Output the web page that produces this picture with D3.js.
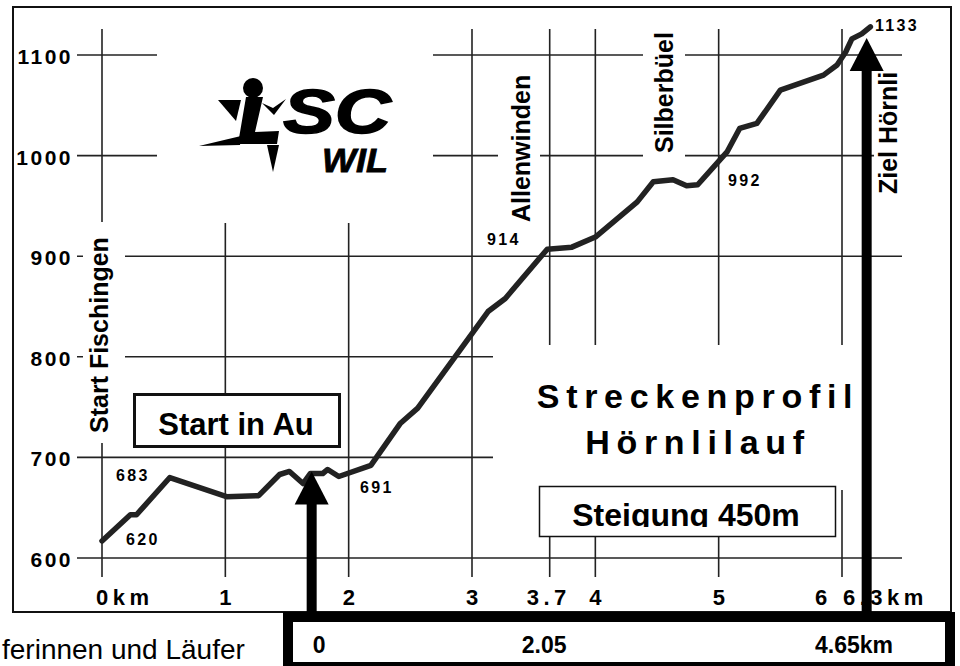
<!DOCTYPE html>
<html><head><meta charset="utf-8">
<script src="https://cdn.jsdelivr.net/npm/d3@7"></script>
<style>
body{margin:0;background:#fff;}
svg{display:block;font-family:"Liberation Sans",Arial,Helvetica,sans-serif;}
</style>
</head><body>
<svg id="c" width="960" height="666"></svg>
<script>
// ---------------- data ----------------
const profileKm   = [0, 0.23, 0.28, 0.55, 1.01, 1.27, 1.44, 1.52, 1.63, 1.69, 1.79, 1.83, 1.92, 2.18, 2.42, 2.56, 3.13, 3.27, 3.61, 3.81, 4.0, 4.34, 4.47, 4.63, 4.74, 4.83, 5.07, 5.17, 5.31, 5.5, 5.85, 5.96, 6.03, 6.08, 6.16, 6.23];
const profileElev = [617, 643, 643, 680, 661, 662, 683, 686, 674, 684, 684, 688, 681, 692, 734, 749, 845, 858, 907, 909, 919, 954, 974, 976, 970, 971, 1004, 1027, 1032, 1065, 1080, 1090, 1103, 1116, 1121, 1128];
const yTickValues = [600, 700, 800, 900, 1000, 1100];
const xGridKm     = [0, 1, 2, 3, 3.63, 4, 5, 6];
const xLabelKm    = [0, 1, 2, 3, 3.63, 4, 5, 6, 6.3];
const xLabelText  = ["0km", "1", "2", "3", "3.7", "4", "5", "6", "6.3km"];
const heightLabels = ["620", "683", "691", "914", "992", "1133"];
const placeNames  = ["Start Fischingen", "Allenwinden", "Silberbüel", "Ziel Hörnli"];
const arrowKm     = [1.7, 6.2];
const arrowTipElev = [686, 1117];
const legText     = ["0", "2.05", "4.65km"];
const titleLines  = ["Streckenprofil", "Hörnlilauf"];
const boxTexts    = ["Start in Au", "Steigung 450m"];
const footText    = "ferinnen und Läufer";

// ---------------- layout ----------------
const svg = d3.select("#c");
const x = d3.scaleLinear().domain([0, 6]).range([102, 842]);
const y = d3.scaleLinear().domain([600, 1100]).range([558, 55]);
const INK = "#222";
const FONT_BOLD = 700;

// outer frame
svg.append("rect").attr("x", 13).attr("y", 7).attr("width", 938).attr("height", 605)
  .attr("fill", "#fff").attr("stroke", "#111").attr("stroke-width", 2);

// grid
const grid = svg.append("g").attr("stroke", INK).attr("stroke-width", 1.6);
grid.selectAll("line.h").data(yTickValues).join("line").attr("class", "h")
  .attr("x1", 77).attr("x2", 902).attr("y1", d => y(d)).attr("y2", d => y(d));
grid.selectAll("line.v").data(xGridKm).join("line").attr("class", "v")
  .attr("x1", d => x(d)).attr("x2", d => x(d)).attr("y1", 29).attr("y2", 577);

// white masks behind labels / logo
const masks = [
  [157, 20, 276, 203],   // logo
  [83, 222, 42, 221],    // Start Fischingen
  [498, 62, 42, 168],    // Allenwinden
  [643, 22, 42, 143],    // Silberbüel
  [874, 62, 32, 140],    // Ziel Hörnli
  [493, 345, 413, 145]   // title
];
svg.append("g").selectAll("rect").data(masks).join("rect")
  .attr("x", d => d[0]).attr("y", d => d[1]).attr("width", d => d[2]).attr("height", d => d[3])
  .attr("fill", "#fff");

// y labels
svg.append("g").selectAll("text").data(yTickValues).join("text")
  .attr("x", 73).attr("y", d => y(d) + 9).attr("text-anchor", "end")
  .attr("font-size", 21).attr("font-weight", FONT_BOLD).attr("letter-spacing", 2.5)
  .text(d => d);

// x labels
const xLabelDx = [-6, -6, -6, -6, -23, -6, -6, -27, -36];
svg.append("g").selectAll("text").data(xLabelKm).join("text")
  .attr("x", (d, i) => x(d) + xLabelDx[i]).attr("y", 605)
  .attr("font-size", 22).attr("font-weight", FONT_BOLD).attr("letter-spacing", 4.5)
  .text((d, i) => xLabelText[i]);

// profile line
const line = d3.line().x(d => x(d[0])).y(d => y(d[1]));
svg.append("path").datum(profileKm.map((k, i) => [k, profileElev[i]]))
  .attr("d", line).attr("fill", "none").attr("stroke", INK)
  .attr("stroke-width", 5.5).attr("stroke-linejoin", "round").attr("stroke-linecap", "round");

// height labels
const hlPos = [[126, 545], [116, 481], [360, 493], [487, 245], [728, 186], [875, 31]];
svg.append("g").selectAll("text").data(heightLabels).join("text")
  .attr("x", (d, i) => hlPos[i][0]).attr("y", (d, i) => hlPos[i][1])
  .attr("font-size", 16).attr("font-weight", FONT_BOLD).attr("letter-spacing", 2.3)
  .text(d => d);

// vertical place names
const placePos = [[108, 433], [530, 222], [673, 153], [897, 194]];
svg.append("g").selectAll("text").data(placeNames).join("text")
  .attr("transform", (d, i) => `translate(${placePos[i][0]},${placePos[i][1]}) rotate(-90)`)
  .attr("font-size", 25).attr("font-weight", FONT_BOLD)
  .text(d => d);

// title
svg.append("g").selectAll("text").data(titleLines).join("text")
  .attr("x", 698).attr("y", (d, i) => 408 + i * 46).attr("text-anchor", "middle")
  .attr("font-size", 34).attr("font-weight", FONT_BOLD).attr("letter-spacing", 6.7)
  .text(d => d);

// Start in Au box
svg.append("rect").attr("x", 134.5).attr("y", 394.5).attr("width", 205).attr("height", 52)
  .attr("fill", "#fff").attr("stroke", "#111").attr("stroke-width", 3);
svg.append("text").attr("x", 236).attr("y", 435).attr("text-anchor", "middle")
  .attr("font-size", 31).attr("font-weight", FONT_BOLD).text(boxTexts[0]);

// Steigung box
svg.append("rect").attr("x", 539.5).attr("y", 486.5).attr("width", 296).attr("height", 50)
  .attr("fill", "#fff").attr("stroke", "#111").attr("stroke-width", 1.5);
svg.append("clipPath").attr("id", "stClip").append("rect")
  .attr("x", 541).attr("y", 488).attr("width", 293).attr("height", 39);
svg.append("text").attr("x", 686).attr("y", 526).attr("text-anchor", "middle")
  .attr("clip-path", "url(#stClip)")
  .attr("font-size", 32).attr("font-weight", FONT_BOLD).text(boxTexts[1]);

// logo
const logo = svg.append("g").attr("fill", "#000");
logo.append("circle").attr("cx", 253).attr("cy", 88).attr("r", 10);
logo.append("path").attr("d", "M246,97 L263,97 L255,132 L279,131 L277,144 L238,144 Z"); // L body
logo.append("path").attr("d", "M218,100 L241,100 L236,121 Z");       // flag
logo.append("path").attr("d", "M262,103 L273,108 L286,99 L274,115 Z"); // arm
logo.append("path").attr("d", "M199,146 L241,136 L240,145 Z");       // left spike
logo.append("path").attr("d", "M267,145 L279,145 L273,172 Z");       // down spike
logo.append("text").attr("x", 283).attr("y", 133)
  .attr("font-size", 63).attr("font-weight", 900).attr("font-style", "italic")
  .attr("stroke", "#000").attr("stroke-width", 1.5)
  .attr("textLength", 108).attr("lengthAdjust", "spacingAndGlyphs").text("SC");
logo.append("text").attr("x", 322).attr("y", 172)
  .attr("font-size", 33).attr("font-weight", 900).attr("font-style", "italic")
  .attr("stroke", "#000").attr("stroke-width", 0.8)
  .attr("textLength", 66).attr("lengthAdjust", "spacingAndGlyphs").text("WIL");

// arrows
const arrows = svg.append("g").attr("fill", "#000");
arrowKm.forEach((k, i) => {
  const cx = x(k), tip = y(arrowTipElev[i]);
  arrows.append("rect").attr("x", cx - 5).attr("y", tip + 30).attr("width", 10).attr("height", 614 - tip - 30);
  arrows.append("path").attr("d", `M${cx - 17},${tip + 33} L${cx},${tip} L${cx + 17},${tip + 33} Z`);
});

// bottom leg box
svg.append("rect").attr("x", 288).attr("y", 617).attr("width", 662).attr("height", 50)
  .attr("fill", "#fff").attr("stroke", "#000").attr("stroke-width", 10);
const legPos = [[x(1.7) + 1, "start"], [x(3.75) + 2, "end"], [893, "end"]];
svg.append("g").selectAll("text").data(legText).join("text")
  .attr("x", (d, i) => legPos[i][0]).attr("y", 653).attr("text-anchor", (d, i) => legPos[i][1])
  .attr("font-size", 23).attr("font-weight", FONT_BOLD).text(d => d);

// footer text
svg.append("text").attr("x", 2).attr("y", 659)
  .attr("font-size", 28).text(footText);
</script>
</body></html>
